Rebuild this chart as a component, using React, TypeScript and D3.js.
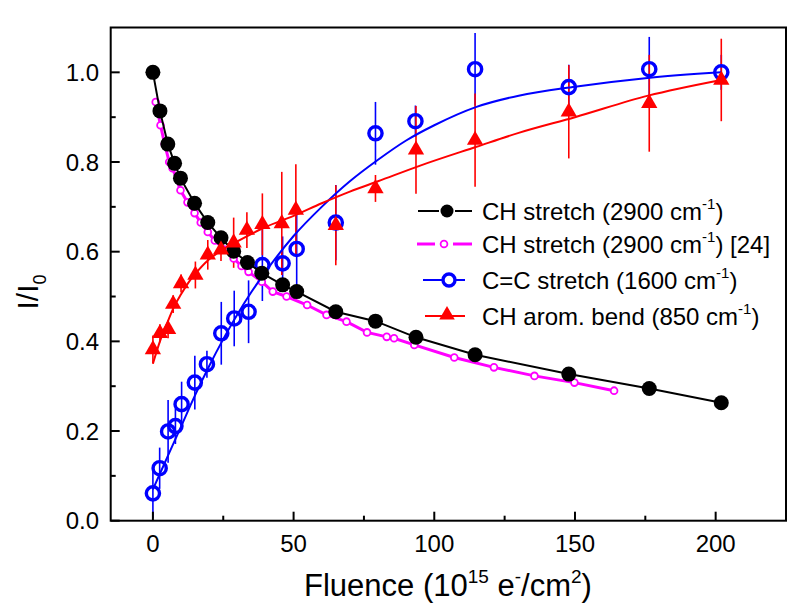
import React from 'react';
import * as d3 from 'd3';

// CH stretch (2900 cm-1)
const chX = [0, 2.5, 5.3, 7.7, 9.8, 14.8, 19.5, 24.2, 28.7, 33.6, 38.7, 46.1, 51.1, 65, 79.1, 93.5, 114.5, 147.8, 176.4, 202];
const chY = [1.0, 0.914, 0.840, 0.797, 0.764, 0.708, 0.665, 0.631, 0.601, 0.576, 0.552, 0.526, 0.511, 0.466, 0.445, 0.409, 0.370, 0.327, 0.295, 0.263];

// CH stretch (2900 cm-1) [24]
const litX = [1.0, 2.7, 4.2, 5.8, 7.0, 9.8, 12.3, 14.8, 17, 19.5, 22, 25.3, 28.7, 31.5, 34, 38.7, 42.6, 47.5, 54.8, 61.7, 68.8, 76.1, 83.1, 85.7, 92.9, 107.1, 121.2, 135.6, 149.8, 163.9];
const litY = [0.934, 0.882, 0.84, 0.80, 0.786, 0.737, 0.71, 0.686, 0.665, 0.644, 0.625, 0.605, 0.585, 0.568, 0.555, 0.533, 0.511, 0.500, 0.481, 0.459, 0.444, 0.42, 0.41, 0.407, 0.392, 0.364, 0.342, 0.323, 0.308, 0.29];

// C=C stretch (1600 cm-1)
const ccX = [0, 2.4, 5.4, 8.0, 10.2, 14.9, 19.2, 24.3, 28.9, 34, 38.9, 46.1, 51.1, 65, 79.1, 93.3, 114.5, 147.8, 176.4, 202];
const ccY = [0.061, 0.117, 0.199, 0.211, 0.260, 0.308, 0.349, 0.418, 0.451, 0.466, 0.570, 0.574, 0.606, 0.665, 0.864, 0.891, 1.007, 0.967, 1.007, 1.0];
const ccErr = [0.055, 0.046, 0.07, 0.04, 0.05, 0.06, 0.03, 0.07, 0.062, 0.07, 0.08, 0.06, 0.09, 0.084, 0.07, 0.035, 0.081, 0.05, 0.072, 0.039];
const ccFitX = [0, 5, 10, 15, 20, 25, 30, 35, 40, 50, 60, 70, 80, 90, 100, 115, 130, 150, 175, 202];
const ccFitY = [0.07, 0.14, 0.21, 0.28, 0.345, 0.405, 0.46, 0.51, 0.555, 0.635, 0.70, 0.757, 0.805, 0.848, 0.882, 0.923, 0.948, 0.968, 0.987, 1.0];

// CH arom. bend (850 cm-1)
const arX = [0, 2.5, 5.4, 7.2, 10, 15.1, 19.5, 24.2, 28.7, 33.4, 38.9, 45.8, 50.8, 65, 79.1, 93.5, 114.5, 147.8, 176.4, 202];
const arY = [0.382, 0.418, 0.427, 0.483, 0.529, 0.548, 0.593, 0.604, 0.62, 0.648, 0.661, 0.663, 0.693, 0.659, 0.741, 0.827, 0.849, 0.912, 0.931, 0.983];
const arErr = [0.031, 0.02, 0.02, 0.02, 0.02, 0.03, 0.033, 0.025, 0.056, 0.04, 0.069, 0.115, 0.102, 0.089, 0.03, 0.098, 0.104, 0.104, 0.108, 0.092];
const arFitX = [0, 2.5, 5, 7.5, 10, 12.5, 15, 20, 25, 30, 40, 50, 60, 70, 80, 95, 115, 130, 150, 176, 202];
const arFitY = [0.35, 0.40, 0.44, 0.477, 0.505, 0.53, 0.55, 0.583, 0.605, 0.623, 0.655, 0.68, 0.708, 0.734, 0.757, 0.792, 0.834, 0.865, 0.90, 0.948, 0.983];

const xMajor = [0, 50, 100, 150, 200];
const xMinor = [25, 75, 125, 175];
const yMajor = [0, 0.2, 0.4, 0.6, 0.8, 1.0];
const yMinor = [0.1, 0.3, 0.5, 0.7, 0.9];

const legendLabels = [
  { main: 'CH stretch (2900 cm', tail: ')' },
  { main: 'CH stretch (2900 cm', tail: ') [24]' },
  { main: 'C=C stretch (1600 cm', tail: ')' },
  { main: 'CH arom. bend (850 cm', tail: ')' },
];

const FONT = '"Liberation Sans", Arial, sans-serif';

export default function App() {
  const L = 110.7, R = 786, T = 27.5, B = 520.7;
  const x = d3.scaleLinear().domain([-15, 225]).range([L, R]);
  const y = d3.scaleLinear().domain([0, 1.1]).range([B, T]);

  const zip = (xs: number[], ys: number[]) => xs.map((v, i) => [v, ys[i]] as [number, number]);
  const straight = d3.line<[number, number]>().x(d => x(d[0])).y(d => y(d[1]));
  const smooth = d3.line<[number, number]>().x(d => x(d[0])).y(d => y(d[1])).curve(d3.curveMonotoneX);
  const tri = d3.symbol().type(d3.symbolTriangle).size(115)();
  const triLeg = d3.symbol().type(d3.symbolTriangle).size(105)();

  const black = '#000000', mag = '#ff00ff', blue = '#0000ff', red = '#ff0000';

  return (
    <svg width={800} height={616} style={{ position: 'absolute', left: 0, top: 0, background: '#fff' }} fontFamily={FONT}>
      <rect x={0} y={0} width={800} height={616} fill="#fff" />
      {/* error bars */}
      {ccX.map((v, i) => (
        <line key={'ce' + i} x1={x(v)} x2={x(v)} y1={y(ccY[i] - ccErr[i])} y2={y(ccY[i] + ccErr[i])} stroke={blue} strokeWidth={1.6} />
      ))}
      {arX.map((v, i) => (
        <line key={'ae' + i} x1={x(v)} x2={x(v)} y1={y(arY[i] - arErr[i])} y2={y(arY[i] + arErr[i])} stroke={red} strokeWidth={1.6} />
      ))}
      {/* literature series */}
      <path d={straight(zip(litX, litY)) || ''} fill="none" stroke={mag} strokeWidth={3} />
      {litX.map((v, i) => (
        <circle key={'lc' + i} cx={x(v)} cy={y(litY[i])} r={3.4} fill="#fff" stroke={mag} strokeWidth={1.8} />
      ))}
      {/* fits */}
      <path d={smooth(zip(ccFitX, ccFitY)) || ''} fill="none" stroke={blue} strokeWidth={2} />
      <path d={smooth(zip(arFitX, arFitY)) || ''} fill="none" stroke={red} strokeWidth={2} />
      {/* C=C circles */}
      {ccX.map((v, i) => (
        <circle key={'cc' + i} cx={x(v)} cy={y(ccY[i])} r={6.6} fill="none" stroke={blue} strokeWidth={3.4} />
      ))}
      {/* CH stretch */}
      <path d={straight(zip(chX, chY)) || ''} fill="none" stroke={black} strokeWidth={2} />
      {chX.map((v, i) => (
        <circle key={'ch' + i} cx={x(v)} cy={y(chY[i])} r={7.5} fill={black} />
      ))}
      {/* triangles */}
      {arX.map((v, i) => (
        <path key={'ar' + i} d={tri || ''} transform={`translate(${x(v)},${y(arY[i])})`} fill={red} />
      ))}

      {/* axes frame */}
      <rect x={L} y={T} width={R - L} height={B - T} fill="none" stroke="#000" strokeWidth={2} />
      {xMajor.map(v => (
        <g key={'xt' + v}>
          <line x1={x(v)} x2={x(v)} y1={B} y2={B - 9} stroke="#000" strokeWidth={2} />
          <text x={x(v)} y={552} textAnchor="middle" fontSize={24} fill="#000">{v}</text>
        </g>
      ))}
      {xMinor.map(v => (
        <line key={'xm' + v} x1={x(v)} x2={x(v)} y1={B} y2={B - 5} stroke="#000" strokeWidth={2} />
      ))}
      {yMajor.map(v => (
        <g key={'yt' + v}>
          <line x1={L} x2={L + 9} y1={y(v)} y2={y(v)} stroke="#000" strokeWidth={2} />
          <text x={99} y={y(v) + 8.5} textAnchor="end" fontSize={24} fill="#000">{d3.format('.1f')(v)}</text>
        </g>
      ))}
      {yMinor.map(v => (
        <line key={'ym' + v} x1={L} x2={L + 5} y1={y(v)} y2={y(v)} stroke="#000" strokeWidth={2} />
      ))}

      {/* axis titles */}
      <text x={448} y={596} textAnchor="middle" fontSize={31} fill="#000">
        Fluence (10<tspan fontSize={19} dy={-13}>15</tspan>
        <tspan dy={13}> e</tspan><tspan fontSize={19} dy={-13}>-</tspan>
        <tspan dy={13}>/cm</tspan><tspan fontSize={19} dy={-13}>2</tspan>
        <tspan dy={13}>)</tspan>
      </text>
      <text transform="translate(38,292) rotate(-90)" textAnchor="middle" fontSize={30} fill="#000">
        I/I<tspan fontSize={18} dy={8}>0</tspan>
      </text>

      {/* legend */}
      <g>
        {/* row 1 */}
        <line x1={418} x2={439} y1={211} y2={211} stroke={black} strokeWidth={2} />
        <line x1={455} x2={472} y1={211} y2={211} stroke={black} strokeWidth={2} />
        <circle cx={447} cy={211} r={6.5} fill={black} />
        {/* row 2 */}
        <line x1={417} x2={435} y1={244} y2={244} stroke={mag} strokeWidth={3} />
        <line x1={453} x2={472} y1={244} y2={244} stroke={mag} strokeWidth={3} />
        <circle cx={444} cy={244} r={3.4} fill="#fff" stroke={mag} strokeWidth={1.8} />
        {/* row 3 */}
        <line x1={423} x2={465} y1={280} y2={280} stroke={blue} strokeWidth={2} />
        <circle cx={449} cy={280} r={6} fill="#fff" stroke={blue} strokeWidth={3.4} />
        {/* row 4 */}
        <line x1={425} x2={465} y1={316} y2={316} stroke={red} strokeWidth={2} />
        <path d={triLeg || ''} transform="translate(447,315)" fill={red} />
        {legendLabels.map((lab, i) => {
          const cy = [211, 244, 280, 316][i];
          return (
            <text key={'lg' + i} x={482} y={cy + 8.5} fontSize={24} fill="#000">
              {lab.main}
              <tspan fontSize={15} dy={-11}>-1</tspan>
              <tspan dy={11}>{lab.tail}</tspan>
            </text>
          );
        })}
      </g>
    </svg>
  );
}
